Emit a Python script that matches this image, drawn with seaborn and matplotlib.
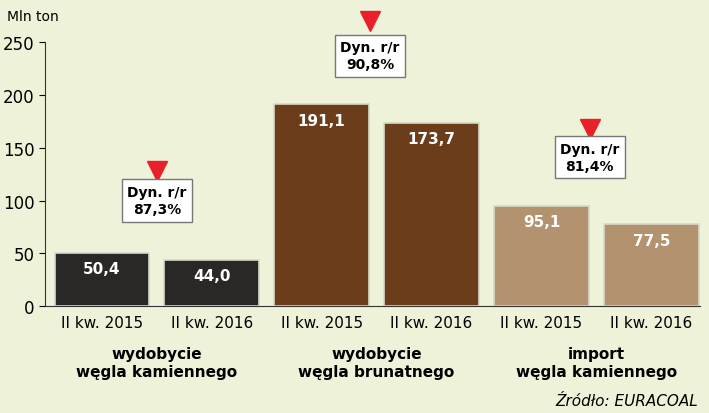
import matplotlib.pyplot as plt
import pandas as pd
import seaborn as sns

# dane
periods = ["II kw. 2015", "II kw. 2016"] * 3
values = [50.4, 44.0, 191.1, 173.7, 95.1, 77.5]
groups = ["wydobycie\nwęgla kamiennego", "wydobycie\nwęgla brunatnego", "import\nwęgla kamiennego"]
dynamics = ["87,3%", "90,8%", "81,4%"]
colors = ["#2a2826", "#2a2826", "#6b3d1a", "#6b3d1a", "#b3926f", "#b3926f"]

df = pd.DataFrame({"x": range(6), "v": values})

fig = plt.figure(figsize=(7.09, 4.14), dpi=100)
fig.patch.set_facecolor("#eef2d8")
ax = fig.add_axes([0.063, 0.258, 0.924, 0.638])
ax.set_facecolor("#eef2d8")

sns.barplot(data=df, x="x", y="v", hue="x", palette=colors, legend=False, saturation=1,
            width=0.86, edgecolor="#d8d8c8", linewidth=1.2, ax=ax)

for i, v in enumerate(values):
    ax.text(i, v - 8, f"{v:.1f}".replace(".", ","), ha="center", va="top",
            color="white", fontsize=11, fontweight="bold")

ax.set_ylim(0, 250)
ax.set_xlim(-0.52, 5.44)
ax.set_yticks(range(0, 251, 50))
ax.set_xticks(range(6))
ax.set_xticklabels(periods, fontsize=11)
ax.tick_params(axis="y", labelsize=12, length=4)
ax.tick_params(axis="x", length=0, pad=6)
ax.set_xlabel("")
ax.set_ylabel("")
for s in ["top", "right"]:
    ax.spines[s].set_visible(False)
ax.spines["left"].set_color("#333")
ax.spines["bottom"].set_color("#333")

# etykiety grup
for g, lab in enumerate(groups):
    ax.text(2 * g + 0.5, -38, lab, ha="center", va="top", fontsize=11,
            fontweight="bold", transform=ax.transData, clip_on=False)

# dynamika r/r
dyn_pos = [(0.5, 100, 128), (2.44, 237, 270), (4.44, 141, 168)]
for (xp, yp, yt), d in zip(dyn_pos, dynamics):
    ax.plot(xp, yt, marker="v", color="#e8202a", markersize=14, clip_on=False)
    ax.text(xp, yp, f"Dyn. r/r\n{d}", ha="center", va="center", fontsize=10,
            fontweight="bold", linespacing=1.3,
            bbox=dict(boxstyle="square,pad=0.4", fc="white", ec="#777"))

fig.text(0.01, 0.975, "Mln ton", fontsize=10, va="top")
fig.text(0.985, 0.02, "Źródło: EURACOAL", fontsize=11, style="italic", ha="right")

fig.savefig("out.png", dpi=100, facecolor=fig.get_facecolor())
